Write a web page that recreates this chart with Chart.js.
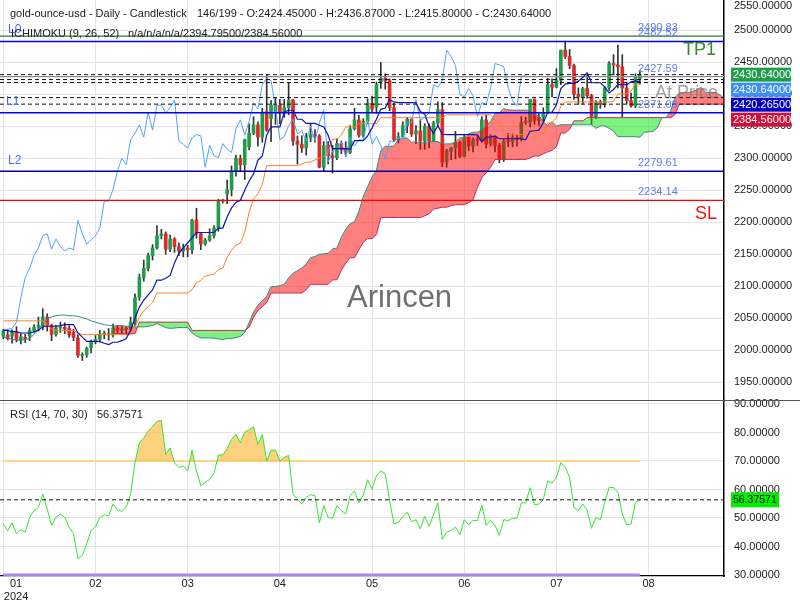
<!DOCTYPE html>
<html>
<head>
<meta charset="utf-8">
<title>gold-ounce-usd - Daily - Candlestick</title>
<script src="https://cdn.jsdelivr.net/npm/chart.js@4.4.1/dist/chart.umd.min.js"></script>
<style>
  body { margin: 0; background: #fff; }
  #wrap { position: relative; width: 800px; height: 600px; overflow: hidden; }
  canvas { position: absolute; left: 0; }
  #price { top: 0; }
  #rsi { top: 390px; }
</style>
</head>
<body>
<div id="wrap">
  <canvas id="price" width="800" height="400"></canvas>
  <canvas id="rsi" width="800" height="210"></canvas>
</div>
<script>
// month labels sit every 21 bars on this chart
var monthLabels = ['01', '02', '03', '04', '05', '06', '07', '08'];
var monthTickBars = [0, 21, 42, 63, 84, 105, 126, 147];
var yearLabel = '2024';

// daily candles, one per bar
var opens = [2022,2024,2022,2029,2015,2020,2022,2031,2036,2038,
  2052,2039,2025,2035,2036,2034,2028,2019,1992,1993,
  2004,2014,2017,2025,2025,2024,2035,2031,2033,2034,
  2044,2083,2114,2128,2148,2160,2179,2182,2158,2174,
  2162,2155,2160,2157,2204,2182,2166,2172,2179,2191,
  2233,2244,2251,2280,2300,2290,2318,2339,2352,2333,
  2373,2362,2373,2383,2371,2379,2391,2327,2322,2316,
  2332,2337,2335,2286,2320,2304,2301,2323,2314,2309,
  2346,2360,2336,2358,2386,2380,2420,2425,2421,2379,
  2329,2334,2351,2361,2338,2343,2327,2350,2327,2355,
  2376,2294,2311,2316,2325,2303,2333,2319,2329,2328,
  2360,2322,2334,2320,2298,2327,2326,2332,2330,2356,
  2356,2392,2359,2364,2371,2415,2411,2422,2469,2459,
  2445,2400,2396,2409,2398,2365,2387,2384,2410,2448,
  2446,2443,2410,2390,2382,2424.45];
var highs = [2033,2030,2032,2037,2026,2025,2035,2040,2052,2065,
  2057,2041,2039,2044,2043,2038,2033,2024,1996,2005,
  2016,2023,2031,2030,2034,2041,2039,2038,2037,2052,
  2088,2119,2141,2152,2165,2195,2189,2185,2180,2176,
  2168,2166,2164,2205,2222,2183,2175,2190,2195,2236,
  2236,2266,2288,2305,2305,2330,2354,2365,2357,2378,
  2431,2390,2395,2392,2392,2418,2392,2335,2335,2339,
  2353,2345,2337,2326,2326,2320,2330,2327,2326,2351,
  2378,2367,2362,2393,2397,2419,2450,2432,2424,2386,
  2340,2357,2364,2362,2351,2360,2354,2354,2358,2388,
  2387,2314,2317,2342,2327,2336,2333,2332,2334,2365,
  2368,2337,2335,2323,2330,2339,2338,2336,2365,2364,
  2392,2393,2370,2379,2425,2424,2440,2469,2483,2470,
  2447,2410,2411,2432,2400,2390,2391,2412,2451,2462,
  2477,2462,2419,2402,2432,2436.87];
var lows = [2018,2016,2011,2013,2010,2012,2015,2028,2030,2032,
  2030,2015,2022,2028,2026,2020,2015,1989,1984,1989,
  1996,2010,2013,2018,2016,2021,2026,2025,2024,2030,
  2039,2078,2108,2124,2141,2158,2174,2150,2154,2153,
  2148,2146,2146,2151,2175,2157,2164,2170,2175,2186,
  2230,2229,2241,2272,2280,2267,2313,2337,2319,2325,
  2342,2326,2353,2354,2364,2368,2320,2291,2309,2305,
  2326,2325,2285,2280,2291,2277,2298,2307,2303,2307,
  2344,2333,2333,2354,2373,2370,2409,2408,2374,2326,
  2324,2333,2340,2334,2323,2314,2314,2316,2326,2351,
  2287,2286,2298,2299,2301,2302,2312,2310,2320,2327,
  2316,2319,2310,2293,2295,2318,2318,2319,2327,2353,
  2349,2353,2351,2358,2370,2396,2410,2415,2456,2440,
  2392,2384,2385,2394,2353,2362,2378,2380,2406,2430,
  2410,2364,2385,2380,2379,2415.80];
var closes = [2030,2018,2029,2017,2021,2018,2031,2036,2039,2052,
  2039,2025,2035,2036,2033,2024,2020,1992,1993,2003,
  2014,2017,2025,2025,2024,2035,2031,2033,2034,2044,
  2082,2114,2128,2148,2160,2179,2182,2158,2174,2162,
  2155,2160,2157,2203,2182,2166,2172,2179,2191,2233,
  2233,2251,2280,2300,2290,2329,2339,2352,2333,2372,
  2344,2383,2383,2371,2379,2391,2327,2322,2316,2332,
  2337,2335,2286,2320,2304,2301,2323,2314,2309,2346,
  2360,2336,2358,2386,2377,2415,2425,2421,2379,2329,
  2334,2351,2361,2338,2343,2327,2350,2327,2355,2376,
  2294,2311,2316,2325,2303,2333,2319,2329,2328,2360,
  2322,2334,2320,2298,2327,2326,2332,2330,2356,2356,
  2392,2359,2364,2371,2415,2411,2422,2469,2459,2445,
  2400,2396,2409,2398,2365,2387,2384,2410,2448,2446,
  2443,2410,2390,2382,2427,2430.64];

// ichimoku (9, 26, 52) lines
var tenkan = [2031,2031,2029,2029,2027,2027,2027,2029,2031,2037.5,
  2037.5,2037.5,2037.5,2038.5,2040,2040,2040,2027,2020.5,2014,
  2014,2014,2013.5,2011,2009,2012.5,2012.5,2015,2018.5,2031,
  2050.5,2067.5,2078.5,2086.5,2094.5,2109.5,2109.5,2112.5,2117,2136.5,
  2151.5,2159.5,2168,2175.5,2184,2184,2184,2184,2184,2191,
  2191,2208.5,2222.5,2231,2234.5,2250,2264.5,2275.5,2297,2303.5,
  2336,2349,2349,2349,2372,2375,2375,2361,2361,2354.5,
  2354.5,2354.5,2351.5,2349,2336,2315,2315,2315,2315,2314,
  2327.5,2327.5,2327.5,2335,2347.5,2361,2376.5,2378.5,2391.5,2388,
  2387,2387,2387,2387,2386.5,2373,2369,2350,2339,2351,
  2337.5,2337,2337,2337,2337,2337,2337,2337,2336.5,2325.5,
  2333,2333.5,2334.5,2330.5,2330.5,2330.5,2330.5,2330.5,2330.5,2329,
  2342.5,2343,2344,2355.5,2371.5,2372,2383.5,2409,2416,2417,
  2417,2420.5,2426.5,2433.5,2418,2418,2418,2411.5,2402,2407.5,
  2415,2415,2415,2419.5,2420.5,2420.27];
var kijun = [2046,2046,2046,2046,2046,2046,2046,2046,2046,2046,
  2040,2033,2031,2031,2031,2031,2031,2027,2024.5,2024.5,
  2024.5,2024.5,2024.5,2024.5,2024.5,2024.5,2024.5,2024.5,2024.5,2024.5,
  2036,2051.5,2062.5,2068,2074.5,2089.5,2089.5,2089.5,2089.5,2089.5,
  2089.5,2089.5,2089.5,2094.5,2105.5,2109,2116,2117.5,2119,2126,
  2128.5,2145,2156,2164.5,2167.5,2184.5,2216,2236.5,2244.5,2259.5,
  2288.5,2288.5,2288.5,2288.5,2288.5,2288.5,2288.5,2288.5,2291,2294,
  2294,2297.5,2300.5,2303,2308.5,2330,2330,2336,2349,2349,
  2349,2354,2354,2354,2354,2354,2363.5,2363.5,2363.5,2363.5,
  2363.5,2363.5,2363.5,2363.5,2363.5,2363.5,2363.5,2363.5,2363.5,2363.5,
  2363.5,2368,2368,2368,2368,2368,2368,2368,2368,2368,
  2368,2368,2359,2355,2337,2337,2337,2337,2337,2337,
  2339,2339.5,2339.5,2339.5,2355.5,2355.5,2363,2381,2388,2388,
  2388,2388,2388,2388,2388,2388,2388,2388,2388,2389,
  2400.5,2400.5,2401,2405,2416,2416];
// cloud edges, already shifted 26 bars ahead
var spanA = [2021,2019,2017,2016,2016,2017,2018,2025,2033,2041,
  2049,2052,2054,2055,2055,2054,2054,2053,2051,2049,
  2046,2044,2042,2040,2039,2038,2038.5,2038.5,2037.5,2037.5,
  2036.5,2036.5,2036.5,2037.5,2038.5,2041.75,2038.75,2035.25,2034.25,2034.75,
  2035.5,2035.5,2035.5,2027,2022.5,2019.25,2019.25,2019.25,2019,2017.75,
  2016.75,2018.5,2018.5,2019.75,2021.5,2027.75,2043.25,2059.5,2070.5,2077.25,
  2084.5,2099.5,2099.5,2101,2103.25,2113,2120.5,2124.5,2128.75,2135,
  2144.75,2146.5,2150,2150.75,2151.5,2158.5,2159.75,2176.75,2189.25,2197.75,
  2201,2217.25,2240.25,2256,2270.75,2281.5,2312.25,2318.75,2318.75,2318.75,
  2330.25,2331.75,2331.75,2324.75,2326,2324.25,2324.25,2326,2326,2326,
  2322.25,2322.5,2322.5,2325.5,2332,2331.5,2338.25,2340.75,2340.75,2344.5,
  2350.75,2357.5,2370,2371,2377.5,2375.75,2375.25,2375.25,2375.25,2375.25,
  2375,2368.25,2366.25,2356.75,2351.25,2357.25,2350.5,2352.5,2352.5,2352.5,
  2352.5,2352.5,2352.5,2352.5,2352.25,2346.75,2350.5,2350.75,2346.75,2342.75,
  2333.75,2333.75,2333.75,2333.75,2333.75,2333,2340.75,2341.25,2341.75,2347.5,
  2363.5,2363.75,2373.25,2395,2402,2402.5,2402.5,2404.25,2407.25,2410.75,
  2403,2403,2403,2399.75,2395,2398.25,2407.75];
var spanBStart = 25;
var spanB = [2026,2026,2026,2026,2026,2026,2044,2044,2044,2044,
  2044,2044,2044,2044,2044,2044,2044,2044,2031,2031,
  2031,2031,2031,2031,2031,2031,2031,2031,2031,2031,
  2031,2036,2051.5,2062.5,2068,2074.5,2089.5,2089.5,2089.5,2089.5,
  2089.5,2089.5,2089.5,2089.5,2094.5,2103,2103,2103,2103,2103,
  2110,2110,2125,2136,2144.5,2144.5,2157,2169,2174.5,2174.5,
  2181,2207.5,2207.5,2207.5,2207.5,2207.5,2207.5,2207.5,2207.5,2207.5,
  2207.5,2210,2213.5,2220.5,2222,2223.5,2223.5,2226,2227.5,2227.5,
  2227.5,2230.5,2235,2254.5,2269.5,2277.5,2286,2298,2298,2298,
  2298,2298,2298,2298,2298,2300.5,2303.5,2303.5,2307,2310,
  2312.5,2318,2339.5,2339.5,2345.5,2358.5,2358.5,2358.5,2363.5,2363.5,
  2363.5,2363.5,2363.5,2363.5,2363.5,2363.5,2363.5,2363.5,2363.5,2363.5,
  2363.5,2363.5,2363.5,2363.5,2363.5,2363.5,2363.5,2363.5,2368,2384.5,
  2384.5,2384.5,2384.5,2384.5,2384.5,2384.5,2384.5,2384.5,2384.5,2384.5,
  2384.5,2384.5];

// RSI (14)
var rsi = [47.9,45.6,48.3,44.5,45.9,45.0,50.2,52.6,53.7,58.4,
  53.2,47.4,50.2,51.4,50.2,46.8,44.5,35.7,36.9,41.0,
  45.6,47.0,50.2,51.1,50.8,54.9,52.9,52.3,53.7,58.4,
  69.4,76.4,78.1,80.5,82.0,83.9,84.3,72.3,74.6,69.4,
  67.7,68.3,66.5,73.8,66.5,61.3,62.4,63.6,65.7,72.1,
  72.1,74.3,77.6,79.3,76.4,80.1,81.0,82.0,75.8,79.3,
  70.0,73.8,73.8,70.0,71.2,72.0,58.4,56.7,54.9,57.2,
  58.2,57.8,48.3,54.3,50.2,49.9,54.3,52.6,51.4,57.8,
  59.5,55.3,58.0,63.4,60.1,64.8,66.5,65.4,56.0,47.9,
  48.5,50.5,52.0,48.7,49.4,46.2,50.6,47.1,51.1,55.3,
  42.5,45.0,45.6,46.8,44.1,49.4,47.6,49.1,49.1,54.6,
  47.4,49.1,47.4,43.9,49.4,49.1,49.9,49.9,55.3,55.3,
  60.7,54.6,54.9,56.4,63.0,62.2,64.2,69.4,68.0,64.2,
  53.7,52.6,54.9,52.8,46.4,50.2,49.4,55.5,60.7,60.7,
  59.0,51.4,47.6,47.9,55.5,56.37571];

var priceTicks = [1950, 2000, 2050, 2100, 2150, 2200, 2250, 2300, 2350, 2400, 2450, 2500, 2550];
var rsiTicks = [30, 40, 50, 60, 70, 80, 90];

// drawn levels
var tp1 = 2490.83, l0 = 2482.52, atPrice = 2427.59, l1 = 2371.09, l2 = 2279.61, sl = 2234.14;
var lastMarks = [2430.64, 2423.0, 2418.3, 2394.795, 2384.56];
var axisBoxes = [2430.64, 2430.64, 2420.265, 2384.56];
var ichimokuText = 'n/a/n/a/n/a/2394.79500/2384.56000';
var rsiLast = 56.37571;
var rsiHigh = 70, rsiLow = 30;

var FONT = '"Liberation Sans", Arial, sans-serif';
Chart.defaults.font.family = FONT;
Chart.defaults.font.size = 11;
Chart.defaults.color = '#222';

var GRID = '#e4e4e4';
var UP = '#1f9d4a', DOWN = '#dc2b2b';
var xMin = -0.75, xMax = 164.17;
var lastBar = closes.length - 1;
// the top price label is pulled just inside the pane, as in the original
var topTick = priceTicks[priceTicks.length - 1];
var topLabelAt = 2538;

function hline(value, color, width, dash, from, to) {
  return {
    type: 'line',
    data: [{x: from, y: value}, {x: to, y: value}],
    borderColor: color, borderWidth: width, borderDash: dash || [],
    pointRadius: 0, fill: false, order: 0
  };
}
function series(arr, start) {
  return arr.map(function(v, i) { return {x: i + start, y: v}; });
}

var priceNotes = {
  id: 'priceNotes',
  afterDraw: function(chart) {
    var ctx = chart.ctx, y = chart.scales.y;
    ctx.save();
    ctx.textBaseline = 'middle';
    ctx.textAlign = 'left';

    ctx.font = '31px ' + FONT;
    ctx.fillStyle = 'rgba(95,95,95,0.9)';
    ctx.fillText('Arincen', 347, 298);

    ctx.font = '18px ' + FONT;
    ctx.fillStyle = 'rgba(120,120,120,0.7)';
    ctx.fillText('At Price', 655, y.getPixelForValue(atPrice) + 16);
    ctx.fillStyle = '#2e8b2e';
    ctx.fillText('TP1', 683, y.getPixelForValue(tp1) + 14);
    ctx.fillStyle = '#ee1111';
    ctx.fillText('SL', 695, y.getPixelForValue(sl) + 14);

    ctx.font = '12px ' + FONT;
    ctx.fillStyle = '#4a6cf0';
    ctx.fillText('L0', 8, y.getPixelForValue(l0) - 12);
    ctx.fillText('L1', 6, y.getPixelForValue(l1) - 11);
    ctx.fillText('L2', 8, y.getPixelForValue(l2) - 11);

    ctx.font = '11px ' + FONT;
    ctx.fillStyle = '#5a7cf2';
    [tp1, l0, atPrice, l1, l2, sl].forEach(function(v) {
      ctx.fillText(v.toFixed(2), 638, y.getPixelForValue(v) - 8);
    });

    ctx.fillStyle = '#222';
    ctx.fillText('gold-ounce-usd - Daily - Candlestick', 10, 14);
    ctx.fillText(closes.length + '/199 - O:' + opens[lastBar].toFixed(5) +
      ' - H:' + highs[lastBar].toFixed(5) + ' - L:' + lows[lastBar].toFixed(5) +
      ' - C:' + closes[lastBar].toFixed(5), 197, 14);
    ctx.fillText('ICHIMOKU (9, 26, 52)', 11, 34);
    ctx.fillText(ichimokuText, 128, 34);

    var boxColors = ['#1f9d49', '#3d8ef5', '#0000c4', '#d0103a'];
    var by = y.getPixelForValue(axisBoxes[0]);
    ctx.font = '11px ' + FONT;
    axisBoxes.forEach(function(v, k) {
      var cy = by + k * 15;
      ctx.fillStyle = boxColors[k];
      ctx.fillRect(731, cy - 7, 60, 14);
      ctx.fillStyle = '#fff';
      ctx.fillText(v.toFixed(5), 733, cy + 0.5);
    });
    ctx.restore();
  }
};

var bars = closes.map(function(c, i) { return i; });

new Chart(document.getElementById('price'), {
  type: 'bar',
  data: {
    datasets: [
      {
        type: 'bar',
        data: bars.map(function(i) { return {x: i, y: [lows[i], highs[i]]}; }),
        backgroundColor: '#333', barThickness: 1, grouped: false, order: 7
      },
      {
        type: 'bar',
        data: bars.map(function(i) { return {x: i, y: [opens[i], closes[i]]}; }),
        backgroundColor: bars.map(function(i) { return closes[i] >= opens[i] ? UP : DOWN; }),
        barThickness: 3, minBarLength: 1, grouped: false, order: 6
      },
      {
        type: 'line', data: series(spanA, 0),
        borderColor: '#2f8f80', borderWidth: 1, pointRadius: 0, fill: false, order: 2
      },
      {
        type: 'line', data: series(spanB, spanBStart),
        borderColor: '#c8285a', borderWidth: 1, pointRadius: 0,
        fill: {target: 2, above: 'rgba(0,230,0,0.5)', below: 'rgba(255,0,0,0.5)'},
        order: 3
      },
      {
        type: 'line', data: series(closes.slice(26), 0),
        borderColor: '#4da3ff', borderWidth: 1, pointRadius: 0, fill: false, order: 1
      },
      {
        type: 'line', data: series(kijun, 0),
        borderColor: '#ff7f27', borderWidth: 1, pointRadius: 0, fill: false, order: 1
      },
      {
        type: 'line', data: series(tenkan, 0),
        borderColor: '#1010b8', borderWidth: 1.2, pointRadius: 0, fill: false, order: 0
      },
      hline(tp1, '#2e7d32', 1.2, null, xMin, xMax),
      hline(l0, '#0000ff', 1.4, null, xMin, xMax),
      hline(atPrice, '#8a8a8a', 1.2, null, xMin, xMax),
      hline(l1, '#0000ff', 1.4, null, xMin, xMax),
      hline(l2, '#0000b0', 1.4, null, xMin, xMax),
      hline(sl, '#ff0000', 1.4, null, xMin, xMax)
    ].concat(lastMarks.map(function(v) { return hline(v, '#111', 1, [4, 3], xMin, xMax); }))
  },
  options: {
    responsive: false, animation: false, events: [],
    layout: {padding: 0},
    plugins: {legend: {display: false}, tooltip: {enabled: false}},
    scales: {
      x: {
        type: 'linear', min: xMin, max: xMax, offset: false,
        afterBuildTicks: function(s) { s.ticks = monthTickBars.map(function(v) { return {value: v}; }); },
        ticks: {display: false},
        grid: {color: GRID, drawTicks: false, offset: false},
        border: {display: false}
      },
      y: {
        position: 'right', min: 1922.3, max: 2547.3,
        afterBuildTicks: function(s) {
          s.ticks = priceTicks.map(function(v) { return {value: v === topTick ? topLabelAt : v}; });
        },
        afterFit: function(s) { s.width = 76; s.paddingTop = 0; s.paddingBottom = 0; },
        ticks: {padding: 10, callback: function(v) { return (v === topLabelAt ? topTick : Number(v)).toFixed(5); }},
        grid: {
          drawTicks: false,
          color: function(c) { return c.tick && c.tick.value === topLabelAt ? 'rgba(0,0,0,0)' : GRID; }
        },
        border: {color: '#000', width: 1.5}
      }
    }
  },
  plugins: [priceNotes]
});

var firstLabelAt = 2.9;
var rsiNotes = {
  id: 'rsiNotes',
  afterDraw: function(chart) {
    var ctx = chart.ctx, a = chart.chartArea, y = chart.scales.y;
    ctx.save();
    ctx.strokeStyle = '#555';
    ctx.lineWidth = 1;
    ctx.beginPath();
    ctx.moveTo(0, a.top + 0.5);
    ctx.lineTo(800, a.top + 0.5);
    ctx.stroke();
    ctx.font = '11px ' + FONT;
    ctx.textBaseline = 'middle';
    ctx.fillStyle = '#222';
    ctx.fillText('RSI (14, ' + rsiHigh + ', ' + rsiLow + ')', 10, a.top + 15);
    ctx.fillText(rsiLast.toFixed(5), 97, a.top + 15);
    var cy = y.getPixelForValue(rsiLast);
    ctx.fillStyle = '#00ee00';
    ctx.fillRect(731, cy - 7.5, 48, 15);
    ctx.fillStyle = '#000';
    ctx.font = '10.5px ' + FONT;
    ctx.fillText(rsiLast.toFixed(5), 733, cy + 0.5);
    ctx.restore();
  }
};

new Chart(document.getElementById('rsi'), {
  type: 'line',
  data: {
    datasets: [
      {
        data: series(rsi, 0), borderColor: '#2de82d', borderWidth: 1, pointRadius: 0,
        fill: {value: rsiHigh, above: 'rgba(252,180,40,0.6)', below: 'rgba(0,0,0,0)'},
        order: 1
      },
      Object.assign(hline(rsiHigh, '#fcd28c', 2, null, 0, lastBar), {order: 3}),
      Object.assign(hline(rsiLow, '#a886ee', 3, null, 0, lastBar), {order: 3}),
      hline(rsiLast, '#111', 1, [4, 3], xMin, xMax)
    ]
  },
  options: {
    responsive: false, animation: false, events: [],
    layout: {padding: {top: 10}},
    plugins: {legend: {display: false}, tooltip: {enabled: false}},
    scales: {
      x: {
        type: 'linear', min: xMin, max: xMax, offset: false,
        afterBuildTicks: function(s) {
          s.ticks = [{value: 0}, {value: firstLabelAt}].concat(
            monthTickBars.slice(1).map(function(v) { return {value: v}; }));
        },
        afterFit: function(s) { s.height = 24; s.paddingLeft = 0; s.paddingRight = 0; },
        ticks: {
          autoSkip: false, maxRotation: 0, padding: 1, color: '#222',
          callback: function(v) {
            if (v === 0) return '';
            if (v === firstLabelAt) return [monthLabels[0], yearLabel];
            return monthLabels[monthTickBars.indexOf(v)];
          }
        },
        grid: {
          drawTicks: false,
          color: function(c) { return c.tick && c.tick.value === firstLabelAt ? 'rgba(0,0,0,0)' : GRID; }
        },
        border: {color: '#000', width: 1.2}
      },
      y: {
        position: 'right', min: 29.65, max: 91.4,
        afterBuildTicks: function(s) { s.ticks = rsiTicks.map(function(v) { return {value: v}; }); },
        afterFit: function(s) { s.width = 76; s.paddingTop = 0; s.paddingBottom = 0; },
        ticks: {padding: 10, callback: function(v) { return Number(v).toFixed(5); }},
        grid: {color: GRID, drawTicks: false},
        border: {color: '#000', width: 1.5}
      }
    }
  },
  plugins: [rsiNotes]
});
</script>
</body>
</html>
